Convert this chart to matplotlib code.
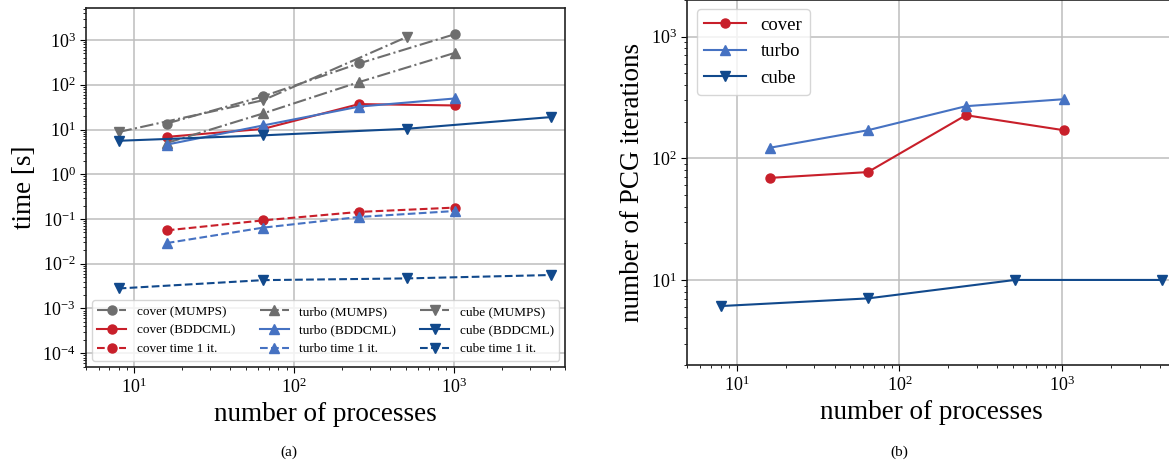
import matplotlib
matplotlib.use('Agg')
import matplotlib.pyplot as plt
from matplotlib.ticker import LogLocator, NullFormatter

plt.rcParams['font.family'] = ['Liberation Serif', 'DejaVu Serif']
plt.rcParams['mathtext.fontset'] = 'stix'

# 資料
p_cube = [8, 64, 512, 4096]
p_other = [16, 64, 256, 1024]

cover_mumps = [13.6, 55, 300, 1360]
turbo_mumps = [5.0, 22.8, 115, 520]
cube_mumps = [8.8, 45, 1180]

cover_bddcml = [6.85, 10.3, 37, 34.5]
turbo_bddcml = [4.6, 12.3, 32.5, 49.5]
cube_bddcml = [5.6, 7.4, 10.4, 19.0]

cover_1it = [0.0557, 0.093, 0.144, 0.18]
turbo_1it = [0.029, 0.064, 0.111, 0.151]
cube_1it = [0.0028, 0.0043, 0.0047, 0.0056]

cover_pcg = [69, 77, 226, 170]
turbo_pcg = [122, 170, 268, 306]
cube_pcg = [6.1, 7.05, 10, 10]

c_cover = '#c81f2a'
c_turbo = '#4672c2'
c_cube = '#11498c'
c_gray = '#6e6e6e'

fig = plt.figure(figsize=(11.69, 4.62), dpi=100)

def style(ax):
    ax.set_xscale('log')
    ax.set_yscale('log')
    for axis in (ax.xaxis, ax.yaxis):
        axis.set_major_locator(LogLocator(base=10, numticks=20))
        axis.set_minor_locator(LogLocator(base=10, subs=range(2, 10), numticks=100))
        axis.set_minor_formatter(NullFormatter())
    ax.grid(True, which='major', color='#bdbdbd', linewidth=1.1)
    ax.set_axisbelow(True)
    for s in ax.spines.values():
        s.set_linewidth(1.2)
        s.set_color('#222222')
    ax.tick_params(which='both', direction='out', labelsize=13)
    ax.tick_params(which='major', length=4)
    ax.tick_params(which='minor', length=2.5)
    ax.set_xlim(5, 5000)
    ax.set_xlabel('number of processes', fontsize=19.5)

# (a) 計算時間
ax1 = fig.add_axes([0.0736, 0.2063, 0.41, 0.7764])
kw = dict(markersize=6.5, linewidth=1.5)
ax1.plot(p_other, cover_mumps, '-.', color=c_gray, marker='o', label='cover (MUMPS)', **kw)
ax1.plot(p_other, cover_bddcml, '-', color=c_cover, marker='o', label='cover (BDDCML)', **kw)
ax1.plot(p_other, cover_1it, '--', color=c_cover, marker='o', label='cover time 1 it.', **kw)
ax1.plot(p_other, turbo_mumps, '-.', color=c_gray, marker='^', label='turbo (MUMPS)', **kw)
ax1.plot(p_other, turbo_bddcml, '-', color=c_turbo, marker='^', label='turbo (BDDCML)', **kw)
ax1.plot(p_other, turbo_1it, '--', color=c_turbo, marker='^', label='turbo time 1 it.', **kw)
ax1.plot(p_cube[:3], cube_mumps, '-.', color=c_gray, marker='v', label='cube (MUMPS)', **kw)
ax1.plot(p_cube, cube_bddcml, '-', color=c_cube, marker='v', label='cube (BDDCML)', **kw)
ax1.plot(p_cube, cube_1it, '--', color=c_cube, marker='v', label='cube time 1 it.', **kw)
style(ax1)
ax1.set_ylim(5e-5, 5200)
ax1.set_ylabel('time [s]', fontsize=19.5)
ax1.legend(loc='lower left', bbox_to_anchor=(0, 0, 1, 1), mode='expand', ncol=3,
           fontsize=9.5, borderaxespad=0.45, handlelength=2.2, labelspacing=0.5)

# (b) PCG 迭代次數
ax2 = fig.add_axes([0.5881, 0.21, 0.418, 0.79])
ax2.plot(p_other, cover_pcg, '-', color=c_cover, marker='o', label='cover', **kw)
ax2.plot(p_other, turbo_pcg, '-', color=c_turbo, marker='^', label='turbo', **kw)
ax2.plot(p_cube, cube_pcg, '-', color=c_cube, marker='v', label='cube', **kw)
style(ax2)
ax2.set_ylim(2, 2000)
ax2.set_ylabel('number of PCG iterations', fontsize=19.5)
ax2.legend(loc='upper left', fontsize=13.5, handlelength=2.2, borderaxespad=0.5)

fig.text(289 / 1169, 1 - 452 / 462, '(a)', ha='center', va='center', fontsize=11)
fig.text(899 / 1169, 1 - 452 / 462, '(b)', ha='center', va='center', fontsize=11)

fig.savefig('out.png', dpi=100)
